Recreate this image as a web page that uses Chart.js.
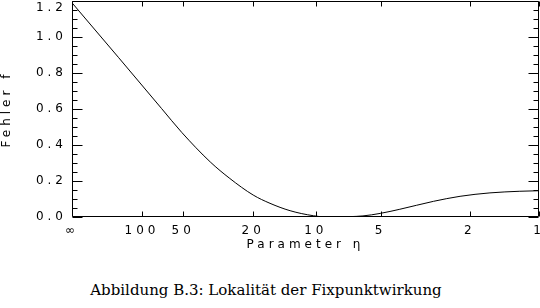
<!DOCTYPE html>
<html>
<head>
<meta charset="utf-8">
<script src="https://cdn.jsdelivr.net/npm/chart.js@4/dist/chart.umd.min.js"></script>
<style>
    body { margin: 0; width: 540px; height: 308px; background: #fff; position: relative; overflow: hidden; }
    #fehlerChart { position: absolute; left: 0; top: 0; }
    .caption {
        position: absolute; left: 0; top: 281px; width: 532px;
        text-align: center; font-family: "DejaVu Serif", serif; font-size: 15px; color: #000;
    }
</style>
</head>
<body>
<canvas id="fehlerChart" width="540" height="252"></canvas>
<div class="caption">Abbildung B.3: Lokalität der Fixpunktwirkung</div>
<script>
// eta axis: labels and where they sit on the (0..1) parameter axis
const etaLabels = ['∞', '100', '50', '20', '10', '5', '2', '1'];
const etaPos = [0, 0.150, 0.238, 0.388, 0.522, 0.661, 0.852, 1];

// curve
const paramPos = [0, 0.100, 0.192, 0.235, 0.296, 0.338, 0.388, 0.424, 0.467,
    0.517, 0.545, 0.575, 0.595, 0.623, 0.660, 0.702, 0.774, 0.831, 0.895, 0.959, 1.0];
const fehler = [1.19, 0.885, 0.602, 0.470, 0.306, 0.214, 0.122, 0.076, 0.035,
    0.007, 0.0, 0.0, 0.002, 0.006, 0.020, 0.043, 0.087, 0.115, 0.134, 0.143, 0.146];

const yMajor = 0.2;
const yMinor = 0.05;

Chart.defaults.font.family = '"DejaVu Sans", sans-serif';
Chart.defaults.font.size = 12;
Chart.defaults.color = '#000';

// wide spaced lettering like the plotter font
const spacing = {
    id: 'spacing',
    beforeUpdate(chart) { chart.ctx.letterSpacing = '4px'; },
    beforeDraw(chart) { chart.ctx.letterSpacing = '4px'; }
};

// frame plus inward tick marks on all four sides
const frame = {
    id: 'frame',
    afterDraw(chart) {
        const { ctx, chartArea: a, scales } = chart;
        ctx.save();
        ctx.strokeStyle = '#000';
        ctx.lineWidth = 1;
        ctx.beginPath();
        const L = Math.round(a.left) + 0.5, R = Math.round(a.right) - 0.5;
        const T = Math.round(a.top) + 0.5, B = Math.round(a.bottom) - 0.5;
        ctx.rect(L, T, R - L, B - T);
        const n = Math.round(scales.y.max / yMinor);
        for (let k = 0; k <= n; k++) {
            const py = Math.round(scales.y.getPixelForValue(k * yMinor)) + 0.5;
            const len = (k % Math.round(yMajor / yMinor) === 0) ? 10 : 5;
            ctx.moveTo(L, py); ctx.lineTo(L + len, py);
            ctx.moveTo(R, py); ctx.lineTo(R - len, py);
        }
        etaPos.forEach(function (v) {
            const px = Math.round(scales.x.getPixelForValue(v)) + 0.5;
            ctx.moveTo(px, B); ctx.lineTo(px, B - 5);
            ctx.moveTo(px, T); ctx.lineTo(px, T + 5);
        });
        ctx.stroke();
        ctx.restore();
    }
};

new Chart(document.getElementById('fehlerChart'), {
    type: 'line',
    data: {
        datasets: [{
            data: paramPos.map((x, i) => ({ x: x, y: fehler[i] })),
            borderColor: '#000',
            borderWidth: 1,
            pointRadius: 0,
            cubicInterpolationMode: 'monotone',
            fill: false
        }]
    },
    options: {
        responsive: false,
        animation: false,
        events: [],
        layout: { padding: { top: 1, right: 0, bottom: 0, left: 0 } },
        plugins: { legend: { display: false }, tooltip: { enabled: false } },
        scales: {
            x: {
                type: 'linear',
                min: 0,
                max: 1,
                grid: { display: false, drawTicks: false },
                border: { display: false },
                afterBuildTicks(scale) {
                    scale.ticks = etaPos.map(v => ({ value: v }));
                },
                afterFit(scale) {
                    scale.height = 35;
                    scale.paddingLeft = 0;
                    scale.paddingRight = 1;
                },
                ticks: {
                    autoSkip: false,
                    maxRotation: 0,
                    padding: 7,
                    callback: (v, i) => etaLabels[i]
                },
                title: {
                    display: true,
                    text: 'Parameter η',
                    padding: { top: 0, bottom: 0 }
                }
            },
            y: {
                min: 0,
                max: 1.2,
                grid: { display: false, drawTicks: false },
                border: { display: false },
                afterFit(scale) {
                    scale.width = 72;
                    scale.paddingTop = 0;
                    scale.paddingBottom = 0;
                },
                ticks: {
                    stepSize: yMajor,
                    padding: 5,
                    callback: (v, i, ticks) => i === ticks.length - 1 ? ['', v.toFixed(1)] : v.toFixed(1)
                },
                title: {
                    display: true,
                    text: 'Fehler f',
                    padding: { top: 0, bottom: 0 }
                }
            }
        }
    },
    plugins: [spacing, frame]
});
</script>
</body>
</html>
